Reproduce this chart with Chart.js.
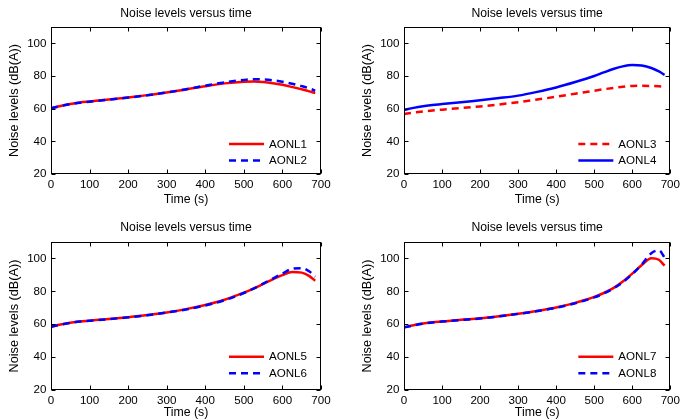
<!DOCTYPE html>
<html>
<head>
<meta charset="utf-8">
<script src="https://cdn.jsdelivr.net/npm/chart.js@4.4.1/dist/chart.umd.min.js"></script>
<style>
body{margin:0;background:#fff;}
#wrap{position:relative;width:684px;height:420px;}
.panel{position:absolute;width:342px;height:210px;}
</style>
</head>
<body>
<div id="wrap">
  <div class="panel" style="left:0;top:0"><canvas id="c1" width="342" height="210"></canvas></div>
  <div class="panel" style="left:342px;top:0"><canvas id="c2" width="342" height="210"></canvas></div>
  <div class="panel" style="left:0;top:210px"><canvas id="c3" width="342" height="210"></canvas></div>
  <div class="panel" style="left:342px;top:210px"><canvas id="c4" width="342" height="210"></canvas></div>
</div>
<script>
// time samples (s) and noise levels (dB(A))
var times = [0, 25, 50, 75, 100, 150, 200, 250, 300, 350, 400, 450, 500, 525, 550, 575, 600, 625, 650, 670, 685];
var aonl1 = [60.3, 61.7, 62.9, 63.8, 64.4, 65.6, 66.9, 68.3, 69.9, 71.8, 73.8, 75.5, 76.5, 76.6, 76.3, 75.6, 74.6, 73.3, 71.9, 70.6, 69.5];
var aonl2 = [60.3, 61.6, 62.8, 63.7, 64.3, 65.5, 66.8, 68.2, 69.9, 71.9, 74.1, 76.1, 77.6, 78.0, 77.9, 77.4, 76.5, 75.3, 73.8, 72.4, 71.0];
var aonl3 = [56.8, 57.6, 58.3, 58.9, 59.4, 60.4, 61.4, 62.6, 64.0, 65.6, 67.3, 69.2, 71.0, 71.9, 72.7, 73.4, 73.9, 74.0, 73.9, 73.7, 73.4];
var aonl4 = [59.3, 60.5, 61.5, 62.3, 62.8, 63.9, 65.2, 66.5, 68.0, 70.3, 73.0, 76.3, 80.0, 82.2, 84.3, 85.9, 86.7, 86.4, 84.9, 82.8, 80.7];
var aonl5 = [58.5, 59.8, 60.9, 61.7, 62.2, 63.2, 64.3, 65.6, 67.2, 69.2, 71.7, 74.9, 79.2, 81.7, 84.5, 87.3, 89.9, 91.8, 91.4, 89.3, 86.4];
var aonl6 = [58.5, 59.7, 60.8, 61.6, 62.1, 63.1, 64.2, 65.5, 67.1, 69.0, 71.4, 74.6, 79.0, 81.7, 84.7, 87.8, 90.8, 93.7, 94.1, 92.1, 88.9];
var aonl7 = [58.1, 59.4, 60.4, 61.2, 61.7, 62.7, 63.6, 64.9, 66.4, 68.1, 70.2, 73.0, 76.6, 79.0, 82.0, 86.0, 90.8, 96.0, 100.2, 99.2, 95.6];
var aonl8 = [58.1, 59.3, 60.3, 61.1, 61.6, 62.6, 63.5, 64.8, 66.3, 68.0, 70.0, 72.8, 76.3, 78.7, 81.7, 85.6, 90.5, 96.4, 103.2, 105.0, 100.6];

var xTicks = [0, 100, 200, 300, 400, 500, 600, 700];
var yTicks = [20, 40, 60, 80, 100];

var FONT = '"Liberation Sans", Arial, Helvetica, sans-serif';
Chart.defaults.font.family = FONT;
Chart.defaults.color = '#000';

// box, inward ticks on all four sides, and a legend in the lower right corner
var matlabFrame = {
  id: 'matlabFrame',
  afterDraw: function (chart) {
    var a = chart.chartArea, ctx = chart.ctx;
    var sx = chart.scales.x, sy = chart.scales.y;
    var L = Math.round(a.left) + 0.5, R = Math.round(a.right) - 0.5;
    var T = Math.round(a.top) + 0.5, B = Math.round(a.bottom) - 0.5;
    ctx.save();
    ctx.strokeStyle = '#000';
    ctx.lineWidth = 1;
    ctx.beginPath();
    xTicks.forEach(function (v) {
      var px = Math.round(sx.getPixelForValue(v)) + 0.5;
      ctx.moveTo(px, B); ctx.lineTo(px, B - 4);
      ctx.moveTo(px, T); ctx.lineTo(px, T + 4);
    });
    yTicks.forEach(function (v) {
      var py = Math.round(sy.getPixelForValue(v)) + 0.5;
      ctx.moveTo(L, py); ctx.lineTo(L + 4, py);
      ctx.moveTo(R, py); ctx.lineTo(R - 4, py);
    });
    ctx.stroke();
    ctx.strokeRect(L, T, R - L, B - T);

    var rows = chart.options.plugins.matlabFrame.rows;
    ctx.font = '11.6px ' + FONT;
    ctx.textBaseline = 'middle';
    ctx.textAlign = 'left';
    chart.data.datasets.forEach(function (ds, i) {
      var y = a.bottom - rows[i];
      ctx.strokeStyle = ds.borderColor;
      ctx.lineWidth = ds.borderWidth;
      ctx.setLineDash(ds.borderDash || []);
      ctx.beginPath();
      ctx.moveTo(a.right - 92, y);
      ctx.lineTo(a.right - 57, y);
      ctx.stroke();
      ctx.setLineDash([]);
      ctx.fillStyle = '#000';
      ctx.fillText(ds.label, a.right - 52, y + 0.5);
    });
    ctx.restore();
  }
};

var panels = [
  {id: 'c1', names: ['AONL1', 'AONL2'], series: [aonl1, aonl2], colors: ['#ff0000', '#0000ff'], dashed: [false, true],
   yWidth: 51, padRight: 21, titlePad: [6.2, 6.2], xHeight: 36, yTitlePad: 6.4, xTitlePad: 2.6, rows: [30, 13.5]},
  {id: 'c2', names: ['AONL3', 'AONL4'], series: [aonl3, aonl4], colors: ['#ff0000', '#0000ff'], dashed: [true, false],
   yWidth: 62, padRight: 10, titlePad: [6.2, 6.2], xHeight: 36, yTitlePad: 17.5, xTitlePad: 2.6, rows: [30, 13.5]},
  {id: 'c3', names: ['AONL5', 'AONL6'], series: [aonl5, aonl6], colors: ['#ff0000', '#0000ff'], dashed: [false, true],
   yWidth: 51, padRight: 21, titlePad: [10, 7.4], xHeight: 30, yTitlePad: 6.4, xTitlePad: 0, rows: [33.3, 16.7]},
  {id: 'c4', names: ['AONL7', 'AONL8'], series: [aonl7, aonl8], colors: ['#ff0000', '#0000ff'], dashed: [false, true],
   yWidth: 62, padRight: 10, titlePad: [10, 7.4], xHeight: 30, yTitlePad: 17.5, xTitlePad: 0, rows: [33.3, 16.7]}
];

panels.forEach(function (p) {
  var datasets = p.series.map(function (vals, i) {
    return {
      label: p.names[i],
      data: times.map(function (t, k) { return {x: t, y: vals[k]}; }),
      borderColor: p.colors[i],
      borderWidth: 2.5,
      borderDash: p.dashed[i] ? [7, 5] : [],
      pointRadius: 0,
      fill: false,
      cubicInterpolationMode: 'monotone',
      order: p.dashed[i] ? 0 : 1
    };
  });
  new Chart(document.getElementById(p.id), {
    type: 'line',
    data: {datasets: datasets},
    plugins: [matlabFrame],
    options: {
      responsive: false,
      animation: false,
      devicePixelRatio: 1,
      layout: {padding: {top: 0, right: p.padRight, bottom: 0, left: 0}},
      plugins: {
        legend: {display: false},
        tooltip: {enabled: false},
        matlabFrame: {rows: p.rows},
        title: {
          display: true, text: 'Noise levels versus time', fullSize: false, color: '#000',
          font: {size: 12.2, weight: 'normal'},
          padding: {top: p.titlePad[0], bottom: p.titlePad[1]}
        }
      },
      scales: {
        x: {
          type: 'linear', min: 0, max: 700,
          grid: {display: false, drawTicks: false}, border: {display: false},
          afterBuildTicks: function (s) { s.ticks = xTicks.map(function (v) { return {value: v}; }); },
          afterFit: function (s) { s.height = p.xHeight; },
          ticks: {padding: 4, maxRotation: 0, font: {size: 11.6}, color: '#000'},
          title: {display: true, text: 'Time (s)', font: {size: 12.3}, color: '#000', padding: {top: 0, bottom: p.xTitlePad}}
        },
        y: {
          type: 'linear', min: 20, max: 110,
          grid: {display: false, drawTicks: false}, border: {display: false},
          afterBuildTicks: function (s) { s.ticks = yTicks.map(function (v) { return {value: v}; }); },
          afterFit: function (s) { s.width = p.yWidth; },
          ticks: {padding: 4.5, font: {size: 11.6}, color: '#000'},
          title: {display: true, text: 'Noise levels (dB(A))', font: {size: 12.7}, color: '#000', padding: {top: p.yTitlePad, bottom: 0}}
        }
      }
    }
  });
});
</script>
</body>
</html>
